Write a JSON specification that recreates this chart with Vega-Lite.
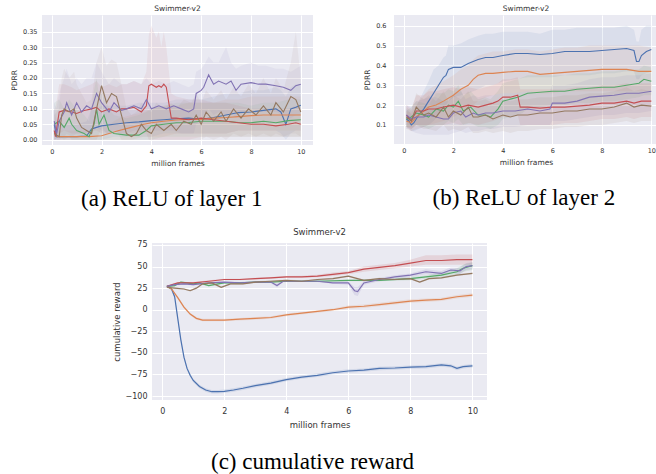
{
"$schema": "https://vega.github.io/schema/vega-lite/v6.json",
"padding": {"left": 10, "top": 4, "right": 0, "bottom": 0},
"background": "white",
"config": {
 "view": {"fill": "#EAEAF2", "stroke": null},
 "axis": {"domain": false, "ticks": false, "grid": true, "gridColor": "#FFFFFF", "gridWidth": 1, "labelFont": "DejaVu Sans", "titleFont": "DejaVu Sans", "labelColor": "#333333", "titleColor": "#333333", "titleFontWeight": "normal", "labelPadding": 3, "labelOverlap": false},
 "title": {"font": "DejaVu Sans", "fontWeight": "normal", "color": "#333333"}
},
"datasets": {
"a": [
{"s":"1","x":0.1,"y":0.05,"lo":0,"hi":0.1},{"s":"1","x":0.2,"y":0.01,"lo":0,"hi":0.06},{"s":"1","x":0.5,"y":0.01,"lo":0,"hi":0.05},{"s":"1","x":1.0,"y":0.01,"lo":0,"hi":0.05},{"s":"1","x":1.4,"y":0.012,"lo":0,"hi":0.06},{"s":"1","x":1.6,"y":0.035,"lo":0,"hi":0.1},{"s":"1","x":1.8,"y":0.04,"lo":0,"hi":0.1},{"s":"1","x":2.0,"y":0.045,"lo":0,"hi":0.11},{"s":"1","x":2.5,"y":0.05,"lo":0.01,"hi":0.11},{"s":"1","x":3.0,"y":0.055,"lo":0.01,"hi":0.11},{"s":"1","x":3.5,"y":0.058,"lo":0.01,"hi":0.12},{"s":"1","x":4.0,"y":0.062,"lo":0.01,"hi":0.12},{"s":"1","x":4.5,"y":0.065,"lo":0.02,"hi":0.12},{"s":"1","x":5.0,"y":0.068,"lo":0.02,"hi":0.13},{"s":"1","x":5.5,"y":0.07,"lo":0.02,"hi":0.13},{"s":"1","x":6.0,"y":0.066,"lo":0.02,"hi":0.13},{"s":"1","x":6.5,"y":0.072,"lo":0.02,"hi":0.14},{"s":"1","x":7.0,"y":0.08,"lo":0.02,"hi":0.15},{"s":"1","x":7.5,"y":0.088,"lo":0.03,"hi":0.15},{"s":"1","x":8.0,"y":0.09,"lo":0.03,"hi":0.16},{"s":"1","x":8.5,"y":0.095,"lo":0.03,"hi":0.16},{"s":"1","x":9.0,"y":0.1,"lo":0.03,"hi":0.17},{"s":"1","x":9.2,"y":0.09,"lo":0.02,"hi":0.16},{"s":"1","x":9.4,"y":0.05,"lo":0,"hi":0.14},{"s":"1","x":9.6,"y":0.1,"lo":0.02,"hi":0.17},{"s":"1","x":9.8,"y":0.105,"lo":0.03,"hi":0.18},{"s":"1","x":10.0,"y":0.112,"lo":0.03,"hi":0.18},
{"s":"2","x":0.2,"y":0.01,"lo":0,"hi":0.03},{"s":"2","x":0.6,"y":0.01,"lo":0,"hi":0.03},{"s":"2","x":1.0,"y":0.01,"lo":0,"hi":0.03},{"s":"2","x":1.5,"y":0.01,"lo":0,"hi":0.03},{"s":"2","x":2.0,"y":0.013,"lo":0,"hi":0.04},{"s":"2","x":2.3,"y":0.02,"lo":0,"hi":0.05},{"s":"2","x":2.7,"y":0.03,"lo":0,"hi":0.07},{"s":"2","x":3.2,"y":0.04,"lo":0,"hi":0.08},{"s":"2","x":3.7,"y":0.05,"lo":0.01,"hi":0.09},{"s":"2","x":4.0,"y":0.055,"lo":0.01,"hi":0.1},{"s":"2","x":4.5,"y":0.06,"lo":0.01,"hi":0.11},{"s":"2","x":5.0,"y":0.064,"lo":0.02,"hi":0.11},{"s":"2","x":5.5,"y":0.066,"lo":0.02,"hi":0.12},{"s":"2","x":6.0,"y":0.066,"lo":0.02,"hi":0.12},{"s":"2","x":6.5,"y":0.07,"lo":0.02,"hi":0.12},{"s":"2","x":7.0,"y":0.072,"lo":0.02,"hi":0.13},{"s":"2","x":7.5,"y":0.075,"lo":0.03,"hi":0.13},{"s":"2","x":8.0,"y":0.078,"lo":0.03,"hi":0.14},{"s":"2","x":8.5,"y":0.08,"lo":0.03,"hi":0.14},{"s":"2","x":9.0,"y":0.08,"lo":0.03,"hi":0.14},{"s":"2","x":9.5,"y":0.08,"lo":0.03,"hi":0.14},{"s":"2","x":10.0,"y":0.08,"lo":0.03,"hi":0.14},
{"s":"3","x":0.1,"y":0.05,"lo":0,"hi":0.12},{"s":"3","x":0.3,"y":0.06,"lo":0.01,"hi":0.13},{"s":"3","x":0.5,"y":0.04,"lo":0,"hi":0.1},{"s":"3","x":0.7,"y":0.07,"lo":0.01,"hi":0.13},{"s":"3","x":0.8,"y":0.05,"lo":0,"hi":0.12},{"s":"3","x":1.0,"y":0.03,"lo":0,"hi":0.1},{"s":"3","x":1.3,"y":0.02,"lo":0,"hi":0.08},{"s":"3","x":1.5,"y":0.01,"lo":0,"hi":0.06},{"s":"3","x":1.7,"y":0.05,"lo":0,"hi":0.16},{"s":"3","x":1.8,"y":0.1,"lo":0,"hi":0.2},{"s":"3","x":1.9,"y":0.05,"lo":0,"hi":0.14},{"s":"3","x":2.1,"y":0.08,"lo":0,"hi":0.16},{"s":"3","x":2.3,"y":0.03,"lo":0,"hi":0.1},{"s":"3","x":2.5,"y":0.02,"lo":0,"hi":0.08},{"s":"3","x":3.0,"y":0.015,"lo":0,"hi":0.07},{"s":"3","x":3.5,"y":0.015,"lo":0,"hi":0.08},{"s":"3","x":3.8,"y":0.03,"lo":0,"hi":0.09},{"s":"3","x":4.0,"y":0.045,"lo":0,"hi":0.1},{"s":"3","x":4.5,"y":0.05,"lo":0.01,"hi":0.11},{"s":"3","x":5.0,"y":0.055,"lo":0.01,"hi":0.12},{"s":"3","x":5.5,"y":0.056,"lo":0.01,"hi":0.12},{"s":"3","x":6.0,"y":0.06,"lo":0.01,"hi":0.12},{"s":"3","x":6.5,"y":0.06,"lo":0.01,"hi":0.12},{"s":"3","x":7.0,"y":0.06,"lo":0.01,"hi":0.12},{"s":"3","x":7.5,"y":0.056,"lo":0.01,"hi":0.12},{"s":"3","x":8.0,"y":0.055,"lo":0.01,"hi":0.11},{"s":"3","x":8.5,"y":0.06,"lo":0.01,"hi":0.12},{"s":"3","x":9.0,"y":0.055,"lo":0.01,"hi":0.12},{"s":"3","x":9.5,"y":0.062,"lo":0.01,"hi":0.13},{"s":"3","x":10.0,"y":0.065,"lo":0.01,"hi":0.13},
{"s":"4","x":0.1,"y":0.03,"lo":0,"hi":0.1},{"s":"4","x":0.15,"y":0.01,"lo":0,"hi":0.1},{"s":"4","x":0.3,"y":0.09,"lo":0.02,"hi":0.18},{"s":"4","x":0.5,"y":0.095,"lo":0.03,"hi":0.18},{"s":"4","x":0.8,"y":0.09,"lo":0.02,"hi":0.17},{"s":"4","x":1.0,"y":0.085,"lo":0.02,"hi":0.16},{"s":"4","x":1.3,"y":0.095,"lo":0.02,"hi":0.17},{"s":"4","x":1.6,"y":0.1,"lo":0.03,"hi":0.18},{"s":"4","x":1.8,"y":0.105,"lo":0.03,"hi":0.19},{"s":"4","x":2.0,"y":0.09,"lo":0.02,"hi":0.17},{"s":"4","x":2.3,"y":0.1,"lo":0.02,"hi":0.18},{"s":"4","x":2.6,"y":0.09,"lo":0.02,"hi":0.17},{"s":"4","x":2.8,"y":0.1,"lo":0.02,"hi":0.18},{"s":"4","x":3.0,"y":0.1,"lo":0.02,"hi":0.18},{"s":"4","x":3.3,"y":0.105,"lo":0.02,"hi":0.19},{"s":"4","x":3.6,"y":0.09,"lo":0.02,"hi":0.18},{"s":"4","x":3.8,"y":0.11,"lo":0.02,"hi":0.22},{"s":"4","x":3.9,"y":0.175,"lo":0,"hi":0.34},{"s":"4","x":4.0,"y":0.18,"lo":0,"hi":0.37},{"s":"4","x":4.2,"y":0.17,"lo":0,"hi":0.33},{"s":"4","x":4.3,"y":0.175,"lo":0,"hi":0.35},{"s":"4","x":4.4,"y":0.17,"lo":0,"hi":0.3},{"s":"4","x":4.5,"y":0.18,"lo":0,"hi":0.35},{"s":"4","x":4.6,"y":0.17,"lo":0,"hi":0.3},{"s":"4","x":4.8,"y":0.07,"lo":0,"hi":0.15},{"s":"4","x":5.0,"y":0.07,"lo":0,"hi":0.14},{"s":"4","x":5.5,"y":0.065,"lo":0,"hi":0.13},{"s":"4","x":6.0,"y":0.07,"lo":0.01,"hi":0.13},{"s":"4","x":6.5,"y":0.065,"lo":0.01,"hi":0.12},{"s":"4","x":7.0,"y":0.06,"lo":0.01,"hi":0.12},{"s":"4","x":7.5,"y":0.055,"lo":0.01,"hi":0.11},{"s":"4","x":8.0,"y":0.05,"lo":0.01,"hi":0.1},{"s":"4","x":8.5,"y":0.05,"lo":0.01,"hi":0.1},{"s":"4","x":9.0,"y":0.045,"lo":0.01,"hi":0.1},{"s":"4","x":9.5,"y":0.05,"lo":0.01,"hi":0.1},{"s":"4","x":9.8,"y":0.055,"lo":0.01,"hi":0.11},{"s":"4","x":10.0,"y":0.05,"lo":0.01,"hi":0.1},
{"s":"5","x":0.1,"y":0.06,"lo":0,"hi":0.12},{"s":"5","x":0.2,"y":0.02,"lo":0,"hi":0.1},{"s":"5","x":0.3,"y":0.06,"lo":0,"hi":0.15},{"s":"5","x":0.5,"y":0.09,"lo":0.01,"hi":0.2},{"s":"5","x":0.6,"y":0.12,"lo":0.02,"hi":0.23},{"s":"5","x":0.8,"y":0.08,"lo":0.01,"hi":0.18},{"s":"5","x":1.0,"y":0.12,"lo":0.02,"hi":0.2},{"s":"5","x":1.2,"y":0.09,"lo":0.02,"hi":0.18},{"s":"5","x":1.4,"y":0.11,"lo":0.02,"hi":0.2},{"s":"5","x":1.6,"y":0.1,"lo":0.02,"hi":0.2},{"s":"5","x":1.8,"y":0.15,"lo":0.04,"hi":0.25},{"s":"5","x":2.0,"y":0.12,"lo":0.03,"hi":0.22},{"s":"5","x":2.3,"y":0.09,"lo":0.02,"hi":0.18},{"s":"5","x":2.5,"y":0.12,"lo":0.03,"hi":0.2},{"s":"5","x":2.8,"y":0.095,"lo":0.02,"hi":0.18},{"s":"5","x":3.0,"y":0.1,"lo":0.02,"hi":0.18},{"s":"5","x":3.3,"y":0.11,"lo":0.03,"hi":0.19},{"s":"5","x":3.6,"y":0.1,"lo":0.03,"hi":0.18},{"s":"5","x":3.8,"y":0.13,"lo":0.04,"hi":0.2},{"s":"5","x":4.0,"y":0.1,"lo":0.03,"hi":0.18},{"s":"5","x":4.3,"y":0.11,"lo":0.03,"hi":0.19},{"s":"5","x":4.6,"y":0.1,"lo":0.03,"hi":0.18},{"s":"5","x":4.9,"y":0.11,"lo":0.03,"hi":0.19},{"s":"5","x":5.2,"y":0.1,"lo":0.02,"hi":0.18},{"s":"5","x":5.5,"y":0.09,"lo":0.02,"hi":0.17},{"s":"5","x":5.7,"y":0.1,"lo":0.02,"hi":0.18},{"s":"5","x":5.8,"y":0.15,"lo":0.05,"hi":0.22},{"s":"5","x":6.0,"y":0.16,"lo":0.06,"hi":0.23},{"s":"5","x":6.1,"y":0.17,"lo":0.07,"hi":0.24},{"s":"5","x":6.3,"y":0.21,"lo":0.1,"hi":0.27},{"s":"5","x":6.5,"y":0.18,"lo":0.08,"hi":0.25},{"s":"5","x":6.7,"y":0.19,"lo":0.09,"hi":0.25},{"s":"5","x":7.0,"y":0.18,"lo":0.08,"hi":0.3},{"s":"5","x":7.2,"y":0.19,"lo":0.09,"hi":0.25},{"s":"5","x":7.4,"y":0.16,"lo":0.07,"hi":0.23},{"s":"5","x":7.6,"y":0.18,"lo":0.09,"hi":0.24},{"s":"5","x":8.0,"y":0.185,"lo":0.1,"hi":0.25},{"s":"5","x":8.3,"y":0.18,"lo":0.09,"hi":0.24},{"s":"5","x":8.6,"y":0.18,"lo":0.09,"hi":0.24},{"s":"5","x":9.0,"y":0.175,"lo":0.09,"hi":0.23},{"s":"5","x":9.3,"y":0.17,"lo":0.08,"hi":0.23},{"s":"5","x":9.6,"y":0.16,"lo":0.07,"hi":0.22},{"s":"5","x":9.8,"y":0.175,"lo":0.08,"hi":0.23},{"s":"5","x":10.0,"y":0.18,"lo":0.08,"hi":0.24},
{"s":"6","x":0.1,"y":0.02,"lo":0,"hi":0.08},{"s":"6","x":0.3,"y":0.01,"lo":0,"hi":0.1},{"s":"6","x":0.4,"y":0.08,"lo":0,"hi":0.2},{"s":"6","x":0.5,"y":0.1,"lo":0,"hi":0.23},{"s":"6","x":0.7,"y":0.09,"lo":0,"hi":0.2},{"s":"6","x":0.9,"y":0.1,"lo":0,"hi":0.22},{"s":"6","x":1.0,"y":0.07,"lo":0,"hi":0.18},{"s":"6","x":1.2,"y":0.04,"lo":0,"hi":0.15},{"s":"6","x":1.4,"y":0.03,"lo":0,"hi":0.12},{"s":"6","x":1.6,"y":0.02,"lo":0,"hi":0.13},{"s":"6","x":1.8,"y":0.1,"lo":0,"hi":0.25},{"s":"6","x":2.0,"y":0.175,"lo":0.04,"hi":0.3},{"s":"6","x":2.2,"y":0.12,"lo":0.02,"hi":0.24},{"s":"6","x":2.4,"y":0.15,"lo":0.03,"hi":0.26},{"s":"6","x":2.6,"y":0.14,"lo":0.03,"hi":0.25},{"s":"6","x":2.8,"y":0.08,"lo":0,"hi":0.18},{"s":"6","x":3.0,"y":0.02,"lo":0,"hi":0.1},{"s":"6","x":3.2,"y":0.01,"lo":0,"hi":0.08},{"s":"6","x":3.4,"y":0.02,"lo":0,"hi":0.09},{"s":"6","x":3.6,"y":0.05,"lo":0,"hi":0.12},{"s":"6","x":3.8,"y":0.03,"lo":0,"hi":0.1},{"s":"6","x":4.0,"y":0.02,"lo":0,"hi":0.09},{"s":"6","x":4.2,"y":0.05,"lo":0,"hi":0.12},{"s":"6","x":4.5,"y":0.03,"lo":0,"hi":0.1},{"s":"6","x":4.8,"y":0.05,"lo":0,"hi":0.12},{"s":"6","x":5.0,"y":0.03,"lo":0,"hi":0.1},{"s":"6","x":5.3,"y":0.06,"lo":0,"hi":0.13},{"s":"6","x":5.6,"y":0.05,"lo":0,"hi":0.12},{"s":"6","x":5.8,"y":0.08,"lo":0,"hi":0.15},{"s":"6","x":6.0,"y":0.05,"lo":0,"hi":0.12},{"s":"6","x":6.2,"y":0.09,"lo":0.01,"hi":0.16},{"s":"6","x":6.5,"y":0.06,"lo":0,"hi":0.13},{"s":"6","x":6.8,"y":0.09,"lo":0.01,"hi":0.16},{"s":"6","x":7.0,"y":0.06,"lo":0,"hi":0.13},{"s":"6","x":7.3,"y":0.1,"lo":0.02,"hi":0.17},{"s":"6","x":7.6,"y":0.07,"lo":0.01,"hi":0.14},{"s":"6","x":7.9,"y":0.1,"lo":0.02,"hi":0.18},{"s":"6","x":8.2,"y":0.08,"lo":0.01,"hi":0.15},{"s":"6","x":8.5,"y":0.11,"lo":0.02,"hi":0.2},{"s":"6","x":8.8,"y":0.08,"lo":0.01,"hi":0.15},{"s":"6","x":9.0,"y":0.12,"lo":0.02,"hi":0.2},{"s":"6","x":9.3,"y":0.09,"lo":0.01,"hi":0.16},{"s":"6","x":9.6,"y":0.14,"lo":0.02,"hi":0.25},{"s":"6","x":9.8,"y":0.13,"lo":0.02,"hi":0.35},{"s":"6","x":10.0,"y":0.09,"lo":0.01,"hi":0.2}
],
"b": [
{"s":"1","x":0.1,"y":0.13,"lo":0.08,"hi":0.18},{"s":"1","x":0.2,"y":0.12,"lo":0.08,"hi":0.17},{"s":"1","x":0.3,"y":0.1,"lo":0.07,"hi":0.15},{"s":"1","x":0.4,"y":0.11,"lo":0.07,"hi":0.16},{"s":"1","x":0.6,"y":0.15,"lo":0.08,"hi":0.22},{"s":"1","x":0.8,"y":0.18,"lo":0.09,"hi":0.27},{"s":"1","x":1.0,"y":0.22,"lo":0.1,"hi":0.32},{"s":"1","x":1.2,"y":0.26,"lo":0.12,"hi":0.38},{"s":"1","x":1.4,"y":0.3,"lo":0.15,"hi":0.4},{"s":"1","x":1.6,"y":0.34,"lo":0.18,"hi":0.44},{"s":"1","x":1.7,"y":0.35,"lo":0.2,"hi":0.45},{"s":"1","x":1.8,"y":0.38,"lo":0.22,"hi":0.5},{"s":"1","x":2.0,"y":0.39,"lo":0.24,"hi":0.5},{"s":"1","x":2.3,"y":0.39,"lo":0.25,"hi":0.51},{"s":"1","x":2.6,"y":0.41,"lo":0.26,"hi":0.53},{"s":"1","x":3.0,"y":0.43,"lo":0.28,"hi":0.55},{"s":"1","x":3.3,"y":0.44,"lo":0.3,"hi":0.56},{"s":"1","x":3.6,"y":0.44,"lo":0.3,"hi":0.56},{"s":"1","x":4.0,"y":0.45,"lo":0.32,"hi":0.57},{"s":"1","x":4.5,"y":0.46,"lo":0.33,"hi":0.57},{"s":"1","x":5.0,"y":0.46,"lo":0.34,"hi":0.57},{"s":"1","x":5.5,"y":0.455,"lo":0.34,"hi":0.56},{"s":"1","x":6.0,"y":0.46,"lo":0.34,"hi":0.58},{"s":"1","x":6.5,"y":0.47,"lo":0.35,"hi":0.58},{"s":"1","x":7.0,"y":0.47,"lo":0.35,"hi":0.59},{"s":"1","x":7.5,"y":0.47,"lo":0.35,"hi":0.59},{"s":"1","x":8.0,"y":0.475,"lo":0.36,"hi":0.59},{"s":"1","x":8.5,"y":0.48,"lo":0.36,"hi":0.59},{"s":"1","x":9.0,"y":0.485,"lo":0.37,"hi":0.6},{"s":"1","x":9.3,"y":0.475,"lo":0.37,"hi":0.58},{"s":"1","x":9.4,"y":0.42,"lo":0.33,"hi":0.52},{"s":"1","x":9.5,"y":0.42,"lo":0.33,"hi":0.52},{"s":"1","x":9.6,"y":0.45,"lo":0.35,"hi":0.58},{"s":"1","x":9.8,"y":0.47,"lo":0.36,"hi":0.6},{"s":"1","x":10.0,"y":0.48,"lo":0.37,"hi":0.6},
{"s":"2","x":0.1,"y":0.12,"lo":0.08,"hi":0.17},{"s":"2","x":0.3,"y":0.11,"lo":0.07,"hi":0.16},{"s":"2","x":0.5,"y":0.14,"lo":0.08,"hi":0.2},{"s":"2","x":0.8,"y":0.17,"lo":0.09,"hi":0.25},{"s":"2","x":1.0,"y":0.19,"lo":0.1,"hi":0.28},{"s":"2","x":1.3,"y":0.2,"lo":0.11,"hi":0.3},{"s":"2","x":1.6,"y":0.22,"lo":0.12,"hi":0.32},{"s":"2","x":2.0,"y":0.25,"lo":0.14,"hi":0.35},{"s":"2","x":2.3,"y":0.28,"lo":0.16,"hi":0.38},{"s":"2","x":2.6,"y":0.3,"lo":0.18,"hi":0.4},{"s":"2","x":2.8,"y":0.33,"lo":0.2,"hi":0.43},{"s":"2","x":3.0,"y":0.35,"lo":0.22,"hi":0.45},{"s":"2","x":3.3,"y":0.36,"lo":0.24,"hi":0.46},{"s":"2","x":3.6,"y":0.36,"lo":0.25,"hi":0.47},{"s":"2","x":4.0,"y":0.365,"lo":0.26,"hi":0.47},{"s":"2","x":4.5,"y":0.37,"lo":0.26,"hi":0.48},{"s":"2","x":5.0,"y":0.37,"lo":0.27,"hi":0.48},{"s":"2","x":5.5,"y":0.355,"lo":0.26,"hi":0.47},{"s":"2","x":6.0,"y":0.36,"lo":0.26,"hi":0.48},{"s":"2","x":6.5,"y":0.365,"lo":0.27,"hi":0.49},{"s":"2","x":7.0,"y":0.37,"lo":0.27,"hi":0.49},{"s":"2","x":7.5,"y":0.375,"lo":0.27,"hi":0.5},{"s":"2","x":8.0,"y":0.38,"lo":0.27,"hi":0.5},{"s":"2","x":8.5,"y":0.38,"lo":0.27,"hi":0.5},{"s":"2","x":9.0,"y":0.38,"lo":0.27,"hi":0.5},{"s":"2","x":9.5,"y":0.37,"lo":0.27,"hi":0.5},{"s":"2","x":10.0,"y":0.37,"lo":0.27,"hi":0.49},
{"s":"3","x":0.1,"y":0.13,"lo":0.09,"hi":0.17},{"s":"3","x":0.3,"y":0.14,"lo":0.09,"hi":0.19},{"s":"3","x":0.5,"y":0.16,"lo":0.1,"hi":0.22},{"s":"3","x":0.8,"y":0.15,"lo":0.09,"hi":0.21},{"s":"3","x":1.0,"y":0.14,"lo":0.08,"hi":0.2},{"s":"3","x":1.3,"y":0.18,"lo":0.1,"hi":0.26},{"s":"3","x":1.6,"y":0.17,"lo":0.1,"hi":0.26},{"s":"3","x":1.8,"y":0.2,"lo":0.12,"hi":0.28},{"s":"3","x":2.0,"y":0.19,"lo":0.11,"hi":0.27},{"s":"3","x":2.2,"y":0.22,"lo":0.13,"hi":0.3},{"s":"3","x":2.4,"y":0.17,"lo":0.1,"hi":0.25},{"s":"3","x":2.7,"y":0.19,"lo":0.11,"hi":0.27},{"s":"3","x":3.0,"y":0.15,"lo":0.09,"hi":0.23},{"s":"3","x":3.3,"y":0.15,"lo":0.09,"hi":0.24},{"s":"3","x":3.5,"y":0.14,"lo":0.08,"hi":0.23},{"s":"3","x":3.8,"y":0.18,"lo":0.1,"hi":0.27},{"s":"3","x":4.0,"y":0.22,"lo":0.13,"hi":0.31},{"s":"3","x":4.3,"y":0.23,"lo":0.14,"hi":0.32},{"s":"3","x":4.6,"y":0.24,"lo":0.15,"hi":0.33},{"s":"3","x":4.8,"y":0.25,"lo":0.16,"hi":0.34},{"s":"3","x":5.0,"y":0.26,"lo":0.18,"hi":0.35},{"s":"3","x":5.5,"y":0.265,"lo":0.19,"hi":0.35},{"s":"3","x":6.0,"y":0.27,"lo":0.2,"hi":0.35},{"s":"3","x":6.5,"y":0.27,"lo":0.2,"hi":0.35},{"s":"3","x":7.0,"y":0.28,"lo":0.21,"hi":0.36},{"s":"3","x":7.5,"y":0.285,"lo":0.21,"hi":0.36},{"s":"3","x":8.0,"y":0.29,"lo":0.22,"hi":0.37},{"s":"3","x":8.5,"y":0.29,"lo":0.22,"hi":0.37},{"s":"3","x":9.0,"y":0.3,"lo":0.23,"hi":0.38},{"s":"3","x":9.5,"y":0.31,"lo":0.24,"hi":0.38},{"s":"3","x":9.7,"y":0.33,"lo":0.25,"hi":0.4},{"s":"3","x":10.0,"y":0.32,"lo":0.25,"hi":0.39},
{"s":"4","x":0.1,"y":0.15,"lo":0.09,"hi":0.2},{"s":"4","x":0.3,"y":0.12,"lo":0.08,"hi":0.18},{"s":"4","x":0.5,"y":0.17,"lo":0.1,"hi":0.25},{"s":"4","x":0.8,"y":0.17,"lo":0.1,"hi":0.25},{"s":"4","x":1.0,"y":0.18,"lo":0.1,"hi":0.27},{"s":"4","x":1.3,"y":0.18,"lo":0.1,"hi":0.27},{"s":"4","x":1.6,"y":0.19,"lo":0.1,"hi":0.28},{"s":"4","x":2.0,"y":0.2,"lo":0.11,"hi":0.29},{"s":"4","x":2.3,"y":0.19,"lo":0.1,"hi":0.28},{"s":"4","x":2.6,"y":0.2,"lo":0.11,"hi":0.29},{"s":"4","x":3.0,"y":0.19,"lo":0.1,"hi":0.28},{"s":"4","x":3.3,"y":0.2,"lo":0.11,"hi":0.29},{"s":"4","x":3.6,"y":0.21,"lo":0.12,"hi":0.3},{"s":"4","x":3.8,"y":0.22,"lo":0.13,"hi":0.31},{"s":"4","x":4.0,"y":0.24,"lo":0.14,"hi":0.33},{"s":"4","x":4.3,"y":0.24,"lo":0.14,"hi":0.33},{"s":"4","x":4.6,"y":0.25,"lo":0.15,"hi":0.34},{"s":"4","x":4.7,"y":0.19,"lo":0.1,"hi":0.28},{"s":"4","x":5.0,"y":0.19,"lo":0.1,"hi":0.28},{"s":"4","x":5.5,"y":0.185,"lo":0.1,"hi":0.28},{"s":"4","x":6.0,"y":0.19,"lo":0.1,"hi":0.28},{"s":"4","x":6.5,"y":0.19,"lo":0.11,"hi":0.28},{"s":"4","x":7.0,"y":0.195,"lo":0.11,"hi":0.29},{"s":"4","x":7.5,"y":0.2,"lo":0.12,"hi":0.29},{"s":"4","x":8.0,"y":0.21,"lo":0.13,"hi":0.3},{"s":"4","x":8.5,"y":0.21,"lo":0.13,"hi":0.3},{"s":"4","x":9.0,"y":0.22,"lo":0.14,"hi":0.31},{"s":"4","x":9.3,"y":0.21,"lo":0.13,"hi":0.3},{"s":"4","x":9.6,"y":0.22,"lo":0.14,"hi":0.31},{"s":"4","x":10.0,"y":0.22,"lo":0.14,"hi":0.31},
{"s":"5","x":0.1,"y":0.15,"lo":0.09,"hi":0.2},{"s":"5","x":0.3,"y":0.13,"lo":0.07,"hi":0.19},{"s":"5","x":0.5,"y":0.14,"lo":0.06,"hi":0.22},{"s":"5","x":0.8,"y":0.14,"lo":0.05,"hi":0.23},{"s":"5","x":1.0,"y":0.15,"lo":0.05,"hi":0.24},{"s":"5","x":1.3,"y":0.14,"lo":0.05,"hi":0.24},{"s":"5","x":1.6,"y":0.13,"lo":0.05,"hi":0.22},{"s":"5","x":1.8,"y":0.13,"lo":0.05,"hi":0.22},{"s":"5","x":2.0,"y":0.16,"lo":0.06,"hi":0.26},{"s":"5","x":2.3,"y":0.17,"lo":0.07,"hi":0.27},{"s":"5","x":2.5,"y":0.14,"lo":0.06,"hi":0.23},{"s":"5","x":2.8,"y":0.16,"lo":0.07,"hi":0.25},{"s":"5","x":3.0,"y":0.15,"lo":0.07,"hi":0.24},{"s":"5","x":3.3,"y":0.16,"lo":0.08,"hi":0.25},{"s":"5","x":3.6,"y":0.16,"lo":0.08,"hi":0.25},{"s":"5","x":4.0,"y":0.17,"lo":0.09,"hi":0.26},{"s":"5","x":4.5,"y":0.17,"lo":0.09,"hi":0.26},{"s":"5","x":5.0,"y":0.18,"lo":0.1,"hi":0.27},{"s":"5","x":5.5,"y":0.17,"lo":0.1,"hi":0.26},{"s":"5","x":5.9,"y":0.18,"lo":0.1,"hi":0.27},{"s":"5","x":6.0,"y":0.21,"lo":0.12,"hi":0.3},{"s":"5","x":6.5,"y":0.21,"lo":0.12,"hi":0.3},{"s":"5","x":7.0,"y":0.22,"lo":0.13,"hi":0.31},{"s":"5","x":7.5,"y":0.24,"lo":0.14,"hi":0.33},{"s":"5","x":8.0,"y":0.245,"lo":0.15,"hi":0.34},{"s":"5","x":8.5,"y":0.25,"lo":0.15,"hi":0.34},{"s":"5","x":9.0,"y":0.26,"lo":0.16,"hi":0.35},{"s":"5","x":9.5,"y":0.26,"lo":0.16,"hi":0.35},{"s":"5","x":10.0,"y":0.27,"lo":0.17,"hi":0.36},
{"s":"6","x":0.1,"y":0.14,"lo":0.09,"hi":0.19},{"s":"6","x":0.3,"y":0.12,"lo":0.08,"hi":0.17},{"s":"6","x":0.5,"y":0.19,"lo":0.1,"hi":0.26},{"s":"6","x":0.8,"y":0.15,"lo":0.08,"hi":0.23},{"s":"6","x":1.0,"y":0.16,"lo":0.08,"hi":0.25},{"s":"6","x":1.3,"y":0.14,"lo":0.07,"hi":0.22},{"s":"6","x":1.6,"y":0.19,"lo":0.1,"hi":0.27},{"s":"6","x":1.8,"y":0.14,"lo":0.07,"hi":0.22},{"s":"6","x":2.0,"y":0.17,"lo":0.08,"hi":0.25},{"s":"6","x":2.3,"y":0.15,"lo":0.07,"hi":0.23},{"s":"6","x":2.6,"y":0.19,"lo":0.09,"hi":0.27},{"s":"6","x":2.8,"y":0.14,"lo":0.06,"hi":0.22},{"s":"6","x":3.0,"y":0.14,"lo":0.06,"hi":0.22},{"s":"6","x":3.3,"y":0.15,"lo":0.07,"hi":0.23},{"s":"6","x":3.6,"y":0.13,"lo":0.06,"hi":0.21},{"s":"6","x":4.0,"y":0.15,"lo":0.07,"hi":0.23},{"s":"6","x":4.3,"y":0.14,"lo":0.06,"hi":0.22},{"s":"6","x":4.6,"y":0.15,"lo":0.07,"hi":0.23},{"s":"6","x":5.0,"y":0.15,"lo":0.07,"hi":0.23},{"s":"6","x":5.5,"y":0.16,"lo":0.08,"hi":0.24},{"s":"6","x":6.0,"y":0.16,"lo":0.08,"hi":0.24},{"s":"6","x":6.5,"y":0.17,"lo":0.09,"hi":0.25},{"s":"6","x":7.0,"y":0.17,"lo":0.09,"hi":0.25},{"s":"6","x":7.5,"y":0.18,"lo":0.1,"hi":0.26},{"s":"6","x":8.0,"y":0.18,"lo":0.1,"hi":0.26},{"s":"6","x":8.5,"y":0.19,"lo":0.11,"hi":0.27},{"s":"6","x":9.0,"y":0.21,"lo":0.12,"hi":0.29},{"s":"6","x":9.3,"y":0.19,"lo":0.11,"hi":0.27},{"s":"6","x":9.6,"y":0.2,"lo":0.12,"hi":0.28},{"s":"6","x":10.0,"y":0.195,"lo":0.12,"hi":0.27}
],
"c": [
{"s":"1","x":0.15,"y":27,"lo":26,"hi":28},{"s":"1","x":0.3,"y":24,"lo":23,"hi":25},{"s":"1","x":0.4,"y":15,"lo":13,"hi":17},{"s":"1","x":0.5,"y":-10,"lo":-12,"hi":-8},{"s":"1","x":0.6,"y":-35,"lo":-37,"hi":-33},{"s":"1","x":0.7,"y":-55,"lo":-57,"hi":-53},{"s":"1","x":0.8,"y":-68,"lo":-70,"hi":-66},{"s":"1","x":0.9,"y":-76,"lo":-78,"hi":-74},{"s":"1","x":1.0,"y":-82,"lo":-84,"hi":-80},{"s":"1","x":1.2,"y":-89,"lo":-91,"hi":-87},{"s":"1","x":1.4,"y":-93,"lo":-95,"hi":-91},{"s":"1","x":1.6,"y":-95,"lo":-97,"hi":-93},{"s":"1","x":1.8,"y":-95,"lo":-97,"hi":-93},{"s":"1","x":2.0,"y":-94.5,"lo":-96.5,"hi":-92.5},{"s":"1","x":2.3,"y":-93,"lo":-95,"hi":-91},{"s":"1","x":2.6,"y":-91,"lo":-93,"hi":-89},{"s":"1","x":3.0,"y":-88,"lo":-90,"hi":-86},{"s":"1","x":3.5,"y":-85,"lo":-87,"hi":-83},{"s":"1","x":4.0,"y":-81,"lo":-83,"hi":-79},{"s":"1","x":4.5,"y":-78,"lo":-80,"hi":-76},{"s":"1","x":5.0,"y":-76,"lo":-78,"hi":-74},{"s":"1","x":5.5,"y":-73,"lo":-75,"hi":-71},{"s":"1","x":6.0,"y":-71,"lo":-73,"hi":-69},{"s":"1","x":6.5,"y":-70,"lo":-72,"hi":-68},{"s":"1","x":7.0,"y":-68,"lo":-70,"hi":-66},{"s":"1","x":7.5,"y":-67.5,"lo":-69.5,"hi":-65.5},{"s":"1","x":8.0,"y":-66.5,"lo":-68.5,"hi":-64.5},{"s":"1","x":8.5,"y":-66,"lo":-68,"hi":-64},{"s":"1","x":9.0,"y":-64,"lo":-66,"hi":-62},{"s":"1","x":9.3,"y":-65,"lo":-67,"hi":-63},{"s":"1","x":9.5,"y":-68,"lo":-70,"hi":-66},{"s":"1","x":9.7,"y":-66,"lo":-68,"hi":-64},{"s":"1","x":10.0,"y":-65,"lo":-67,"hi":-63},
{"s":"2","x":0.15,"y":27,"lo":26,"hi":28},{"s":"2","x":0.3,"y":24,"lo":23,"hi":25},{"s":"2","x":0.5,"y":14,"lo":12.5,"hi":15.5},{"s":"2","x":0.7,"y":3,"lo":1.5,"hi":4.5},{"s":"2","x":0.9,"y":-5,"lo":-6.5,"hi":-3.5},{"s":"2","x":1.1,"y":-10,"lo":-11.5,"hi":-8.5},{"s":"2","x":1.3,"y":-12,"lo":-13.5,"hi":-10.5},{"s":"2","x":1.6,"y":-12,"lo":-13.5,"hi":-10.5},{"s":"2","x":2.0,"y":-12,"lo":-13.5,"hi":-10.5},{"s":"2","x":2.5,"y":-11,"lo":-12.5,"hi":-9.5},{"s":"2","x":3.0,"y":-10,"lo":-11.5,"hi":-8.5},{"s":"2","x":3.5,"y":-9,"lo":-10.5,"hi":-7.5},{"s":"2","x":4.0,"y":-6,"lo":-7.5,"hi":-4.5},{"s":"2","x":4.5,"y":-4,"lo":-5.5,"hi":-2.5},{"s":"2","x":5.0,"y":-2,"lo":-3.5,"hi":-0.5},{"s":"2","x":5.5,"y":0,"lo":-1.5,"hi":1.5},{"s":"2","x":6.0,"y":3,"lo":1,"hi":5},{"s":"2","x":6.5,"y":4,"lo":2,"hi":6},{"s":"2","x":7.0,"y":6,"lo":4,"hi":8},{"s":"2","x":7.5,"y":8,"lo":6,"hi":10},{"s":"2","x":8.0,"y":10,"lo":8,"hi":12},{"s":"2","x":8.5,"y":11,"lo":9,"hi":13},{"s":"2","x":9.0,"y":12,"lo":10,"hi":14},{"s":"2","x":9.5,"y":15,"lo":13,"hi":17},{"s":"2","x":10.0,"y":17,"lo":15,"hi":19},
{"s":"3","x":0.15,"y":27,"lo":26,"hi":28},{"s":"3","x":0.4,"y":28,"lo":27,"hi":29},{"s":"3","x":0.6,"y":32,"lo":31,"hi":33},{"s":"3","x":0.8,"y":31,"lo":30,"hi":32},{"s":"3","x":1.0,"y":30,"lo":29,"hi":31},{"s":"3","x":1.2,"y":31,"lo":30,"hi":32},{"s":"3","x":1.5,"y":28,"lo":27,"hi":29},{"s":"3","x":1.8,"y":30,"lo":29,"hi":31},{"s":"3","x":2.0,"y":31,"lo":30,"hi":32},{"s":"3","x":2.5,"y":31,"lo":30,"hi":32},{"s":"3","x":3.0,"y":32,"lo":31,"hi":33},{"s":"3","x":3.5,"y":32,"lo":31,"hi":33},{"s":"3","x":4.0,"y":33,"lo":32,"hi":34},{"s":"3","x":5.0,"y":33,"lo":32,"hi":34},{"s":"3","x":6.0,"y":34,"lo":33,"hi":35},{"s":"3","x":7.0,"y":34,"lo":33,"hi":35},{"s":"3","x":8.0,"y":36,"lo":34,"hi":38},{"s":"3","x":8.5,"y":38,"lo":36,"hi":40},{"s":"3","x":9.0,"y":40,"lo":37,"hi":43},{"s":"3","x":9.5,"y":44,"lo":40,"hi":48},{"s":"3","x":9.7,"y":48,"lo":44,"hi":52},{"s":"3","x":10.0,"y":51,"lo":46,"hi":55},
{"s":"4","x":0.15,"y":27,"lo":26,"hi":28},{"s":"4","x":0.5,"y":31,"lo":30,"hi":32},{"s":"4","x":1.0,"y":31,"lo":30,"hi":32},{"s":"4","x":1.5,"y":33,"lo":32,"hi":34},{"s":"4","x":2.0,"y":35,"lo":34,"hi":36},{"s":"4","x":2.5,"y":35,"lo":34,"hi":36},{"s":"4","x":3.0,"y":36,"lo":35,"hi":37},{"s":"4","x":3.5,"y":37,"lo":36,"hi":38},{"s":"4","x":4.0,"y":38,"lo":37,"hi":39},{"s":"4","x":4.5,"y":38,"lo":37,"hi":39.5},{"s":"4","x":5.0,"y":39,"lo":37.5,"hi":40.5},{"s":"4","x":5.5,"y":41,"lo":39,"hi":43},{"s":"4","x":6.0,"y":43,"lo":41,"hi":45},{"s":"4","x":6.5,"y":47,"lo":44,"hi":50},{"s":"4","x":7.0,"y":49,"lo":46,"hi":52},{"s":"4","x":7.5,"y":51,"lo":48,"hi":54},{"s":"4","x":8.0,"y":54,"lo":50,"hi":58},{"s":"4","x":8.5,"y":57,"lo":52,"hi":63},{"s":"4","x":9.0,"y":57,"lo":52,"hi":63},{"s":"4","x":9.5,"y":58,"lo":52,"hi":64},{"s":"4","x":10.0,"y":58,"lo":52,"hi":64},
{"s":"5","x":0.15,"y":27,"lo":26,"hi":28},{"s":"5","x":0.4,"y":29,"lo":28,"hi":30},{"s":"5","x":0.7,"y":30,"lo":29,"hi":31},{"s":"5","x":1.0,"y":29,"lo":28,"hi":30},{"s":"5","x":1.5,"y":31,"lo":30,"hi":32},{"s":"5","x":2.0,"y":32,"lo":31,"hi":33},{"s":"5","x":2.5,"y":31,"lo":30,"hi":32},{"s":"5","x":3.0,"y":32,"lo":31,"hi":33},{"s":"5","x":3.5,"y":32,"lo":31,"hi":33},{"s":"5","x":3.7,"y":28,"lo":26,"hi":30},{"s":"5","x":3.9,"y":33,"lo":32,"hi":34},{"s":"5","x":4.5,"y":33,"lo":32,"hi":34},{"s":"5","x":5.0,"y":33,"lo":32,"hi":34},{"s":"5","x":5.5,"y":31,"lo":30,"hi":32},{"s":"5","x":6.0,"y":31,"lo":29,"hi":33},{"s":"5","x":6.2,"y":22,"lo":17,"hi":26},{"s":"5","x":6.3,"y":21,"lo":16,"hi":26},{"s":"5","x":6.5,"y":31,"lo":29,"hi":33},{"s":"5","x":7.0,"y":35,"lo":33,"hi":37},{"s":"5","x":7.5,"y":38,"lo":36,"hi":40},{"s":"5","x":8.0,"y":40,"lo":38,"hi":42},{"s":"5","x":8.5,"y":44,"lo":41,"hi":47},{"s":"5","x":9.0,"y":42,"lo":39,"hi":45},{"s":"5","x":9.3,"y":46,"lo":43,"hi":49},{"s":"5","x":9.6,"y":45,"lo":41,"hi":49},{"s":"5","x":9.8,"y":50,"lo":46,"hi":54},{"s":"5","x":10.0,"y":51,"lo":47,"hi":55},
{"s":"6","x":0.15,"y":26,"lo":25,"hi":27},{"s":"6","x":0.4,"y":25,"lo":24,"hi":26},{"s":"6","x":0.7,"y":24,"lo":23,"hi":25},{"s":"6","x":0.9,"y":22,"lo":21,"hi":23},{"s":"6","x":1.1,"y":25,"lo":24,"hi":26},{"s":"6","x":1.3,"y":30,"lo":29,"hi":31},{"s":"6","x":1.6,"y":31,"lo":30,"hi":32},{"s":"6","x":1.9,"y":26,"lo":25,"hi":27},{"s":"6","x":2.2,"y":30,"lo":29,"hi":31},{"s":"6","x":2.6,"y":30,"lo":29,"hi":31},{"s":"6","x":3.0,"y":32,"lo":31,"hi":33},{"s":"6","x":3.5,"y":33,"lo":32,"hi":34},{"s":"6","x":4.0,"y":34,"lo":33,"hi":35},{"s":"6","x":4.5,"y":33,"lo":32,"hi":34},{"s":"6","x":5.0,"y":35,"lo":34,"hi":36},{"s":"6","x":5.5,"y":36,"lo":35,"hi":37},{"s":"6","x":6.0,"y":39,"lo":38,"hi":40},{"s":"6","x":6.5,"y":34,"lo":33,"hi":35},{"s":"6","x":7.0,"y":36,"lo":35,"hi":37},{"s":"6","x":7.5,"y":35,"lo":34,"hi":36},{"s":"6","x":8.0,"y":36,"lo":35,"hi":37},{"s":"6","x":8.3,"y":32,"lo":31,"hi":33},{"s":"6","x":8.6,"y":36,"lo":35,"hi":37},{"s":"6","x":9.0,"y":37,"lo":36,"hi":38},{"s":"6","x":9.5,"y":40,"lo":39,"hi":41},{"s":"6","x":10.0,"y":42,"lo":41,"hi":43}
]
},
"vconcat": [
{
 "hconcat": [
  {
   "title": {"text": "(a) ReLU of layer 1", "orient": "bottom", "anchor": "middle", "frame": "bounds", "font": "Liberation Serif", "fontSize": 23, "fontWeight": "normal", "color": "#000000", "offset": 21, "dx": 10},
   "vconcat": [
    {
     "width": 271, "height": 130,
     "data": {"name": "a"},
     "title": {"text": "Swimmer-v2", "fontSize": 7.5, "offset": 3, "frame": "group"},
     "encoding": {
      "x": {"field": "x", "type": "quantitative", "scale": {"domain": [-0.39, 10.49], "nice": false, "zero": false}, "axis": {"values": [0, 2, 4, 6, 8, 10], "title": "million frames", "labelFontSize": 6.5, "titleFontSize": 7.5, "titlePadding": 5, "labelOverlap": false}},
      "color": {"field": "s", "type": "nominal", "scale": {"domain": ["1","2","3","4","5","6"], "range": ["#4C72B0","#DD8452","#55A868","#C44E52","#8172B3","#937860"]}, "legend": null}
     },
     "layer": [
      {"mark": {"type": "area", "opacity": 0.08, "clip": true},
       "encoding": {"y": {"field": "lo", "type": "quantitative", "scale": {"domain": [-0.017, 0.404], "nice": false, "zero": false}, "axis": {"values": [0, 0.05, 0.1, 0.15, 0.2, 0.25, 0.3, 0.35], "format": ".2f", "title": "PDRR", "labelFontSize": 6.5, "titleFontSize": 7.5, "labelPadding": 5, "titlePadding": 4, "labelOverlap": false}}, "y2": {"field": "hi"}}},
      {"mark": {"type": "line", "clip": true, "strokeWidth": 1.1},
       "encoding": {"y": {"field": "y", "type": "quantitative", "axis": {"values": [0, 0.05, 0.1, 0.15, 0.2, 0.25, 0.3, 0.35], "format": ".2f", "title": "PDRR", "labelFontSize": 6.5, "titleFontSize": 7.5, "labelPadding": 5, "titlePadding": 4, "labelOverlap": false}}}}
     ]
    }
   ]
  },
  {
   "title": {"text": "(b) ReLU of layer 2", "orient": "bottom", "anchor": "middle", "frame": "bounds", "font": "Liberation Serif", "fontSize": 23, "fontWeight": "normal", "color": "#000000", "offset": 21, "dx": 13},
   "vconcat": [
    {
     "width": 264, "height": 129,
     "data": {"name": "b"},
     "title": {"text": "Swimmer-v2", "fontSize": 7.5, "offset": 3, "frame": "group"},
     "encoding": {
      "x": {"field": "x", "type": "quantitative", "scale": {"domain": [-0.4, 10.27], "nice": false, "zero": false}, "axis": {"values": [0, 2, 4, 6, 8, 10], "title": "million frames", "labelFontSize": 6.5, "titleFontSize": 7.5, "titlePadding": 5, "labelOverlap": false}},
      "color": {"field": "s", "type": "nominal", "scale": {"domain": ["1","2","3","4","5","6"], "range": ["#4C72B0","#DD8452","#55A868","#C44E52","#8172B3","#937860"]}, "legend": null}
     },
     "layer": [
      {"mark": {"type": "area", "opacity": 0.1, "clip": true},
       "encoding": {"y": {"field": "lo", "type": "quantitative", "scale": {"domain": [0.004, 0.654], "nice": false, "zero": false}, "axis": {"values": [0.1, 0.2, 0.3, 0.4, 0.5, 0.6], "format": ".1f", "title": "PDRR", "labelFontSize": 6.5, "titleFontSize": 7.5, "labelPadding": 8, "titlePadding": 4, "labelOverlap": false}}, "y2": {"field": "hi"}}},
      {"mark": {"type": "line", "clip": true, "strokeWidth": 1.1},
       "encoding": {"y": {"field": "y", "type": "quantitative", "axis": {"values": [0.1, 0.2, 0.3, 0.4, 0.5, 0.6], "format": ".1f", "title": "PDRR", "labelFontSize": 6.5, "titleFontSize": 7.5, "labelPadding": 8, "titlePadding": 4, "labelOverlap": false}}}}
     ]
    }
   ]
  }
 ],
 "spacing": 50
},
{
 "hconcat": [
  {"width": 70, "height": 10, "data": {"values": []}, "mark": "point", "encoding": {}, "view": {"fill": "white", "stroke": null}},
  {
   "title": {"text": "(c) cumulative reward", "orient": "bottom", "anchor": "middle", "frame": "bounds", "font": "Liberation Serif", "fontSize": 23, "fontWeight": "normal", "color": "#000000", "offset": 22, "dx": 13},
   "vconcat": [
    {
     "width": 335, "height": 157,
     "data": {"name": "c"},
     "title": {"text": "Swimmer-v2", "fontSize": 8.5, "offset": 4, "frame": "group"},
     "encoding": {
      "x": {"field": "x", "type": "quantitative", "scale": {"domain": [-0.33, 10.47], "nice": false, "zero": false}, "axis": {"values": [0, 2, 4, 6, 8, 10], "title": "million frames", "labelFontSize": 8, "titleFontSize": 8.5, "labelPadding": 7, "titlePadding": 5, "labelOverlap": false}},
      "color": {"field": "s", "type": "nominal", "scale": {"domain": ["1","2","3","4","5","6"], "range": ["#4C72B0","#DD8452","#55A868","#C44E52","#8172B3","#937860"]}, "legend": null}
     },
     "layer": [
      {"mark": {"type": "area", "opacity": 0.15, "clip": true},
       "encoding": {"y": {"field": "lo", "type": "quantitative", "scale": {"domain": [-104.6, 77.3], "nice": false, "zero": false}, "axis": {"values": [-100, -75, -50, -25, 0, 25, 50, 75], "title": "cumulative reward", "labelFontSize": 8, "titleFontSize": 8.5, "labelPadding": 5, "titlePadding": 4, "labelOverlap": false}}, "y2": {"field": "hi"}}},
      {"mark": {"type": "line", "clip": true, "strokeWidth": 1.2},
       "encoding": {"y": {"field": "y", "type": "quantitative", "axis": {"values": [-100, -75, -50, -25, 0, 25, 50, 75], "title": "cumulative reward", "labelFontSize": 8, "titleFontSize": 8.5, "labelPadding": 5, "titlePadding": 4, "labelOverlap": false}}}}
     ]
    }
   ]
  }
 ],
 "spacing": 0
}
],
"spacing": 17
}
